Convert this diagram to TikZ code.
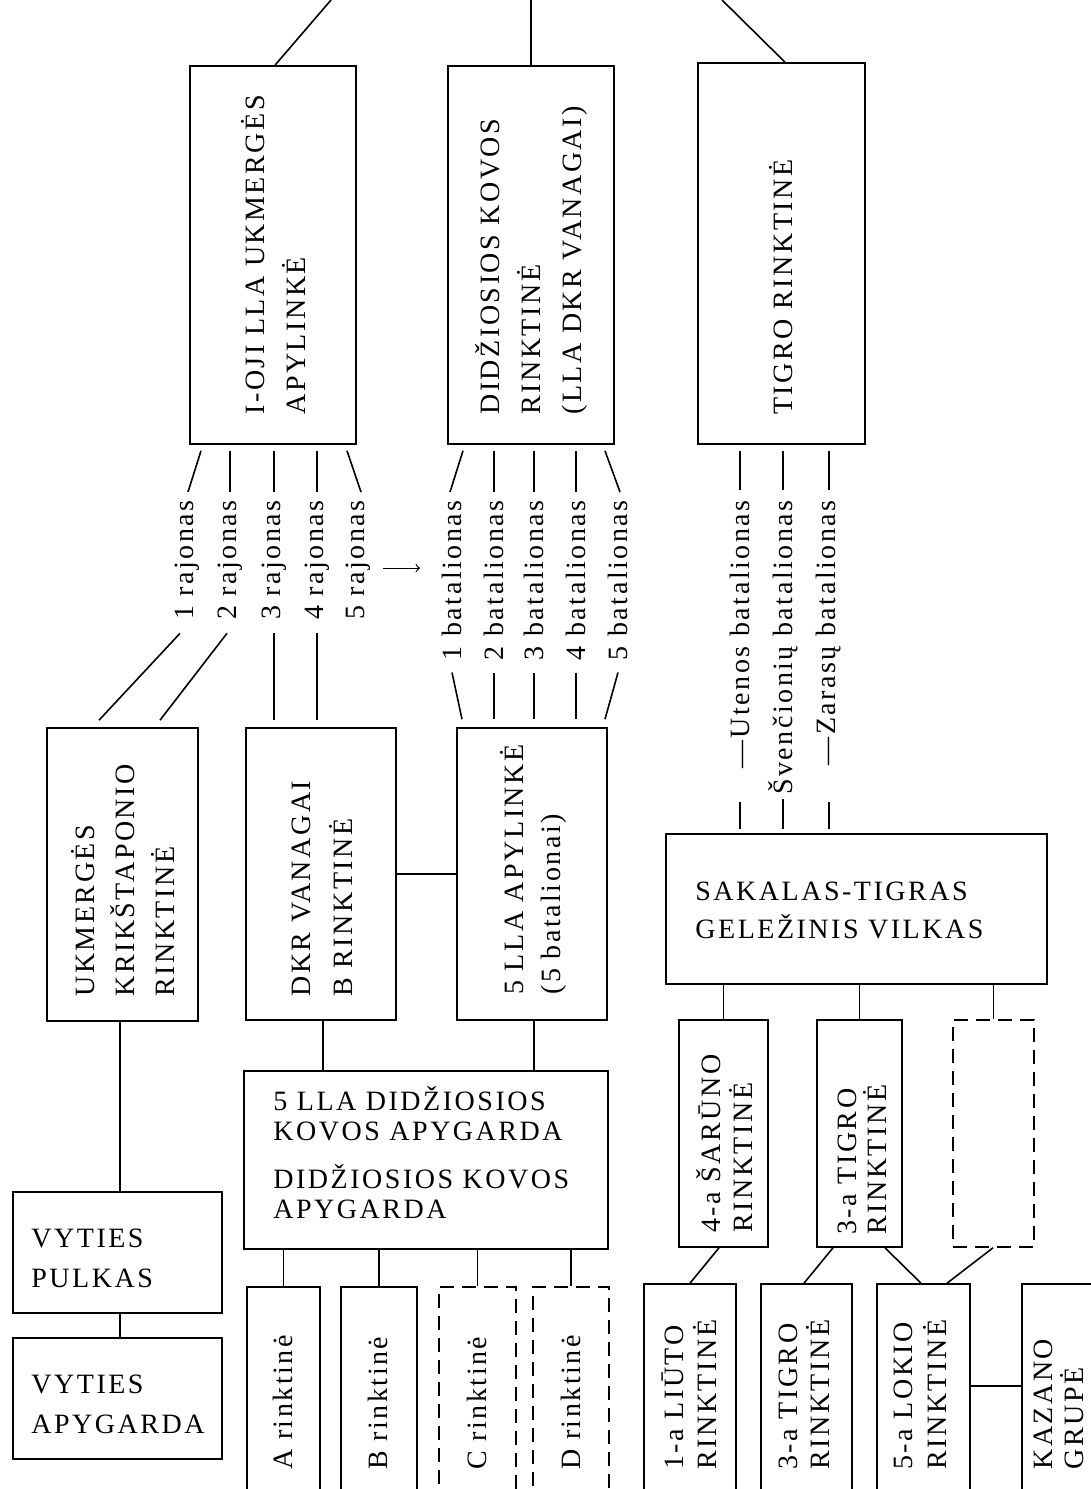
\documentclass[tikz,border=0pt]{standalone}
\usepackage{fontspec}
\setmainfont{Liberation Serif}[LetterSpace=9]
\usetikzlibrary{fit,calc}
\newcommand\fsz[1]{\fontsize{14pt}{#1pt}\selectfont}
\begin{document}
\begin{tikzpicture}[x=0.5pt,y=-0.5pt,
  every node/.style={inner sep=0pt, text=black},
  ln/.style={line width=0.8pt},
  box/.style={draw, line width=0.8pt, inner sep=0pt},
  dbox/.style={box, dash pattern=on 7pt off 4pt},
  vt/.style={rotate=90, anchor=west, align=left, font=\fsz{#1}},
  vt/.default=20,
  lb/.style={rotate=90, anchor=east, font=\fsz{20}},
  ht/.style={anchor=base west, align=left, font=\fsz{#1}},
  ht/.default=20,
  arr/.style={->, line width=0.6pt}]
\useasboundingbox (0,0) rectangle (1091,1489);
\fill[white] (0,0) rectangle (1091,1489);
\clip (0,0) rectangle (1091,1489);

% ---------- top row ----------
\node[box, fit={(190,66) (356,444)}] (b1) {};
\node[box, fit={(448,66) (614,444)}] (b2) {};
\node[box, fit={(698,63) (865,444)}] (b3) {};
\node[vt=20.5] (t1) at (273,415) {I-OJI LLA UKMERGĖS\\APYLINKĖ};
\node[vt=20.5] (t2) at (531,415) {DIDŽIOSIOS KOVOS\\RINKTINĖ\\(LLA DKR VANAGAI)};
\node[vt] (t3) at (781,415) {TIGRO RINKTINĖ};

\coordinate (top1) at (331,0);
\coordinate (top2) at (531,0);
\coordinate (top3) at (722,0);
\draw[ln] (top1) -- ($(b1.north)+(2,0)$);
\draw[ln] (top2) -- (b2.north);
\draw[ln] (top3) -- ($(b3.north)+(3.5,0)$);

% ---------- labels ----------
\node[lb] (r1) at (187,500) {1 rajonas};
\node[lb] (r2) at (230,500) {2 rajonas};
\node[lb] (r3) at (274,500) {3 rajonas};
\node[lb] (r4) at (317,500) {4 rajonas};
\node[lb] (r5) at (358,500) {5 rajonas};
\node[lb] (c1) at (452,500) {1 batalionas};
\node[lb] (c2) at (494,500) {2 batalionas};
\node[lb] (c3) at (534,500) {3 batalionas};
\node[lb] (c4) at (576,500) {4 batalionas};
\node[lb] (c5) at (618,500) {5 batalionas};
\node[lb] (u) at (740,500) {—Utenos batalionas};
\node[lb] (s) at (783,500) {Švenčionių batalionas};
\node[lb] (z) at (829,500) {—Zarasų batalionas};

\draw[arr] ($(r5.center)+(25,8)$) -- ($(r5.center)+(62,8)$);

% upper short lines
\draw[ln] ($(b1.south)+(-72,6)$) -- ($(r1.east)+(1,-8)$);
\draw[ln] ($(b1.south)+(-43,6)$) -- ($(r2.east)+(0,-8)$);
\draw[ln] ($(b1.south)+(1,6)$) -- ($(r3.east)+(0,-8)$);
\draw[ln] ($(b1.south)+(44,6)$) -- ($(r4.east)+(0,-8)$);
\draw[ln] ($(b1.south)+(74,6)$) -- ($(r5.east)+(3,-8)$);
\draw[ln] ($(b2.south)+(-68,6)$) -- ($(c1.east)+(-2,-8)$);
\draw[ln] ($(b2.south)+(-37,6)$) -- ($(c2.east)+(0,-8)$);
\draw[ln] ($(b2.south)+(3,6)$) -- ($(c3.east)+(0,-8)$);
\draw[ln] ($(b2.south)+(45,6)$) -- ($(c4.east)+(0,-8)$);
\draw[ln] ($(b2.south)+(74,6)$) -- ($(c5.east)+(2,-8)$);
\draw[ln] ($(b3.south)+(-41.5,6)$) -- ($(u.east)+(0,-10)$);
\draw[ln] ($(b3.south)+(1.5,6)$) -- ($(s.east)+(0,-10)$);
\draw[ln] ($(b3.south)+(47.5,6)$) -- ($(z.east)+(0,-10)$);

% ---------- middle row ----------
\node[box, fit={(47,728) (198,1021)}] (uk) {};
\node[box, fit={(246,728) (396,1020)}] (dkr) {};
\node[box, fit={(457,728) (607,1020)}] (ap) {};
\node[vt] (tuk) at (123,997) {UKMERGĖS\\KRIKŠTAPONIO\\RINKTINĖ};
\node[vt=21] (tdkr) at (322,997) {DKR VANAGAI\\B RINKTINĖ};
\node[vt=18.5] (tap) at (533,995) {5 LLA APYLINKĖ\\(5 batalionai)};

% lower short lines
\draw[ln] ($(r1.west)+(-7,13)$) -- ($(uk.north)+(-23.5,-7)$);
\draw[ln] ($(r2.west)+(-3,13)$) -- ($(uk.north)+(37.5,-7)$);
\draw[ln] ($(r3.west)+(0,13)$) -- ($(dkr.north)+(-47,-7)$);
\draw[ln] ($(r4.west)+(0,13)$) -- ($(dkr.north)+(-4,-7)$);
\draw[ln] ($(c1.west)+(0,12)$) -- ($(ap.north)+(-70,-8)$);
\draw[ln] ($(c2.west)+(0,12)$) -- ($(ap.north)+(-38,-8)$);
\draw[ln] ($(c3.west)+(0,12)$) -- ($(ap.north)+(2,-8)$);
\draw[ln] ($(c4.west)+(0,12)$) -- ($(ap.north)+(44,-8)$);
\draw[ln] ($(c5.west)+(0,12)$) -- ($(ap.north)+(73,-8)$);

\draw[ln] (dkr.east) -- (dkr.east -| ap.west);

% ---------- Sakalas ----------
\node[box, fit={(666,834) (1047,984)}] (sak) {};
\node[ht=19] (tsak) at (695,938) {SAKALAS-TIGRAS\\GELEŽINIS VILKAS};
\draw[ln] ($(sak.north)+(-116.5,-31)$) -- ($(sak.north)+(-116.5,-4)$);
\draw[ln] ($(s.west)+(0,4)$) -- ($(sak.north)+(-73.5,-4)$);
\draw[ln] ($(sak.north)+(-27.5,-31)$) -- ($(sak.north)+(-27.5,-4)$);

\node[box, fit={(679,1020) (768,1247)}] (sar) {};
\node[box, fit={(817,1020) (902,1247)}] (tgm) {};
\node[dbox, fit={(953,1020) (1034,1247)}] (dsh) {};
\node[vt=16] (tsar) at (724,1233) {4-a ŠARŪNO\\RINKTINĖ};
\node[vt=15] (ttgm) at (862,1235) {3-a TIGRO\\RINKTINĖ};

\draw[ln] (sar.north |- sak.south) -- (sar.north);
\draw[ln] (tgm.north |- sak.south) -- (tgm.north);
\draw[ln] (dsh.north |- sak.south) -- (dsh.north);

% ---------- bottom right row ----------
\node[box, fit={(644,1284) (736,1500)}] (liu) {};
\node[box, fit={(761,1284) (852,1500)}] (tgb) {};
\node[box, fit={(877,1284) (970,1500)}] (lok) {};
\node[box, fit={(1022,1284) (1120,1500)}] (kaz) {};
\node[vt=16.5] (tliu) at (689,1470) {1-a LIŪTO\\RINKTINĖ};
\node[vt=16] (ttgb) at (804,1470) {3-a TIGRO\\RINKTINĖ};
\node[vt=17] (tlok) at (920,1470) {5-a LOKIO\\RINKTINĖ};
\node[vt=15.5] (tkaz) at (1059,1470) {KAZANO\\GRUPĖ};

\draw[ln] ($(sar.south)+(-4.5,0)$) -- (liu.north);
\draw[ln] ($(tgm.south)+(-26.5,0)$) -- ($(tgb.north)+(-2.5,0)$);
\draw[ln] ($(tgm.south)+(25.5,0)$) -- ($(lok.north)+(-2.5,0)$);
\draw[ln] ($(dsh.south)+(-0.5,0)$) -- ($(lok.north)+(23.5,0)$);
\draw[ln] ($(lok.east)+(0,-6)$) -- ($(lok.east -| kaz.west)+(0,-6)$);

% ---------- left bottom ----------
\node[box, fit={(13,1192) (222,1313)}] (vp) {};
\node[box, fit={(13,1338) (222,1459)}] (va) {};
\node[ht] (tvp) at (31,1287) {VYTIES\\PULKAS};
\node[ht] (tva) at (31,1433) {VYTIES\\APYGARDA};
\draw[ln] ($(uk.south)+(-2.5,0)$) -- ($(vp.north)+(2.5,0)$);
\draw[ln] ($(vp.south)+(2.5,0)$) -- ($(va.north)+(2.5,0)$);

% ---------- Didziosios kovos apygarda ----------
\node[box, fit={(244,1071) (608,1249)}] (dk) {};
\node[ht=15] (tdk) at (273,1218) {5 LLA DIDŽIOSIOS\\KOVOS APYGARDA\\[9pt]DIDŽIOSIOS KOVOS\\APYGARDA};
\draw[ln] ($(dkr.south)+(2,0)$) -- ($(dkr.south |- dk.north)+(2,0)$);
\draw[ln] ($(ap.south)+(2,0)$) -- ($(ap.south |- dk.north)+(2,0)$);

\node[box, fit={(247,1287) (320,1500)}] (ra) {};
\node[box, fit={(341,1287) (417,1500)}] (rb) {};
\node[dbox, fit={(439,1287) (516,1500)}] (rc) {};
\node[dbox, fit={(533,1287) (609,1500)}] (rd) {};
\node[vt] (tra) at (283,1470) {A rinktinė};
\node[vt] (trb) at (378,1470) {B rinktinė};
\node[vt] (trc) at (477,1470) {C rinktinė};
\node[vt] (trd) at (571,1470) {D rinktinė};
\draw[ln] (ra.north |- dk.south) -- (ra.north);
\draw[ln] (rb.north |- dk.south) -- (rb.north);
\draw[ln] (rc.north |- dk.south) -- (rc.north);
\draw[ln] (rd.north |- dk.south) -- (rd.north);
\end{tikzpicture}
\end{document}
